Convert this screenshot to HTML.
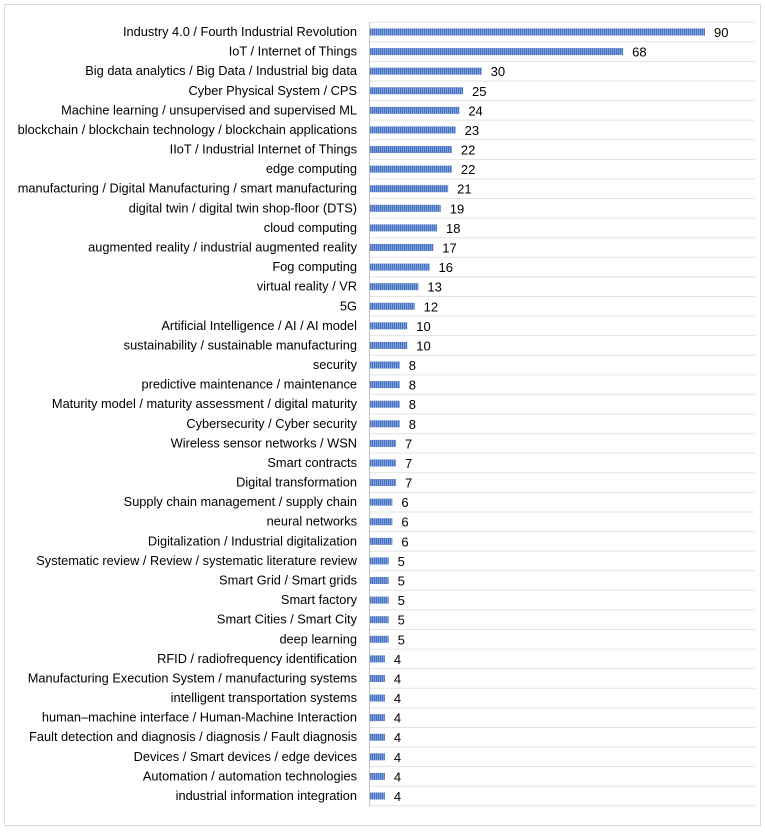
<!DOCTYPE html>
<html><head><meta charset="utf-8"><style>
body{margin:0;background:#fff;}
svg text{font-family:"Liberation Sans",sans-serif;font-size:12.8px;fill:#000;}
</style></head><body>
<svg width="765" height="830">
<defs><pattern id="st" width="2" height="10" patternUnits="userSpaceOnUse"><rect width="2" height="10" fill="#8faadc"/><rect width="1.2" height="10" fill="#4472c4"/></pattern></defs>
<rect x="4.5" y="4.5" width="756" height="821" fill="#fff" stroke="#d9d9d9"/>
<g id="g"></g>
</svg>
<script>
const categories=["Industry 4.0 / Fourth Industrial Revolution","IoT / Internet of Things","Big data analytics / Big Data / Industrial big data","Cyber Physical System / CPS","Machine learning / unsupervised and supervised ML","blockchain / blockchain technology / blockchain applications","IIoT / Industrial Internet of Things","edge computing","manufacturing / Digital Manufacturing / smart manufacturing","digital twin / digital twin shop-floor (DTS)","cloud computing","augmented reality / industrial augmented reality","Fog computing","virtual reality / VR","5G","Artificial Intelligence / AI / AI model","sustainability / sustainable manufacturing","security","predictive maintenance / maintenance","Maturity model / maturity assessment / digital maturity","Cybersecurity / Cyber security","Wireless sensor networks / WSN","Smart contracts","Digital transformation","Supply chain management / supply chain","neural networks","Digitalization / Industrial digitalization","Systematic review / Review / systematic literature review","Smart Grid / Smart grids","Smart factory","Smart Cities / Smart City","deep learning","RFID / radiofrequency identification","Manufacturing Execution System / manufacturing systems","intelligent transportation systems","human\u2013machine interface / Human-Machine Interaction","Fault detection and diagnosis / diagnosis / Fault diagnosis","Devices / Smart devices / edge devices","Automation / automation technologies","industrial information integration"];
const values=[90,68,30,25,24,23,22,22,21,19,18,17,16,13,12,10,10,8,8,8,8,7,7,7,6,6,6,5,5,5,5,5,4,4,4,4,4,4,4,4];
const NS="http://www.w3.org/2000/svg",g=document.getElementById('g');
const x0=370,top0=22.2,pitch=19.59,max=90,span=335;
const xs=v=>x0+v/max*span, yc=i=>top0+pitch*(i+0.5);
function mk(t,a){const e=document.createElementNS(NS,t);for(const k in a)e.setAttribute(k,a[k]);g.appendChild(e);return e;}
for(let i=0;i<=categories.length;i++){const l=mk('line',{x1:x0,x2:755,y1:top0+pitch*i,y2:top0+pitch*i,stroke:'#e3e3e3'});

}
const ax=mk('line',{x1:x0-0.5,x2:x0-0.5,y1:top0,y2:top0+pitch*categories.length,stroke:'#bfbfbf'});


categories.forEach((c,i)=>{
const t=mk('text',{x:357,y:yc(i)+4,'text-anchor':'end'});t.textContent=c;


const b=mk('rect',{x:x0,y:yc(i)-3.5,width:xs(values[i])-x0,height:7,fill:'url(#st)'});


const v=mk('text',{x:xs(values[i])+9,y:yc(i)+5});v.textContent=values[i];v.style.fontSize='13px';


});
</script>
</body></html>
